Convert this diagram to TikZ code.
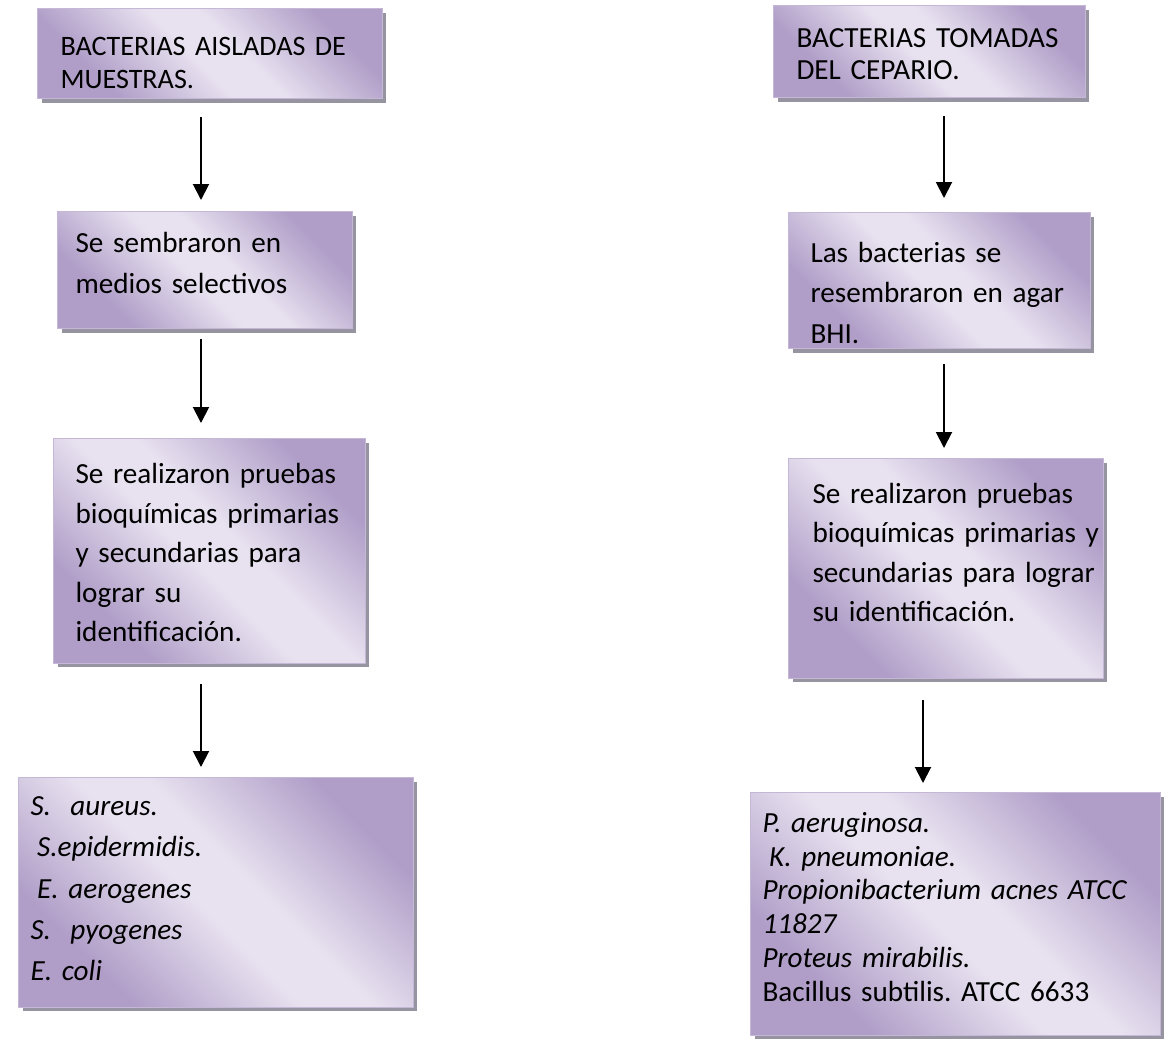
\documentclass[tikz,border=0pt]{standalone}
\usepackage{fontspec}
\setmainfont{Carlito}
\usetikzlibrary{arrows.meta,shadows}

\definecolor{lavdark}{RGB}{176,158,200}
\definecolor{lavlight}{RGB}{232,226,240}
\definecolor{lavline}{RGB}{196,184,214}
\definecolor{boxshadow}{RGB}{150,148,160}

\pgfdeclarehorizontalshading{lavshade}{100bp}{color(0bp)=(lavdark); color(28bp)=(lavdark); color(47bp)=(lavlight); color(55bp)=(lavlight); color(74bp)=(lavdark); color(100bp)=(lavdark)}

\tikzset{
  flowbox/.style={draw=lavline, line width=0.6pt, shade, shading=lavshade, shading angle=45,
    drop shadow={shadow xshift=0.08cm, shadow yshift=-0.08cm, fill=boxshadow, opacity=1},
    anchor=north west, inner sep=0pt},
  lpad/.style={execute at begin node={\frenchspacing\raggedright\leftskip=#1}},
  lines/.style={font=\fontsize{16.6pt}{#1}\selectfont},
  flowarrow/.style={line width=1.1pt, -{Triangle[width=0.32cm,length=0.32cm]}}
}

\begin{document}
\begin{tikzpicture}[x=0.02cm, y=-0.02cm]
  \useasboundingbox (0,0) rectangle (1164,1039);

  % left column
  \node[flowbox, lpad=0.46cm, text width=6.9cm, text height=0.94cm, text depth=0.86cm, font=\fontsize{16pt}{18.8pt}\selectfont] (aislada) at (37,8) {BACTERIAS AISLADAS DE\\MUESTRAS.};
  \node[flowbox, lpad=0.36cm, text width=5.9cm, text height=0.82cm, text depth=1.52cm, lines=23.3pt] (siembra) at (57,211) {Se sembraron en\\medios selectivos};
  \node[flowbox, lpad=0.44cm, text width=6.24cm, text height=0.9cm, text depth=3.6cm, lines=22.5pt] (pruebasA) at (53,438) {Se realizaron pruebas\\bioquímicas primarias\\y secundarias para\\lograr su\\identificación.};
  \node[flowbox, lpad=0.24cm, text width=7.9cm, text height=0.76cm, text depth=3.84cm, lines=23.5pt] (especiesA) at (18,777) {\itshape S.\ \ aureus.\\\hspace*{3.75pt}S.epidermidis.\\\hspace*{3.75pt}E. aerogenes\\S.\ \ pyogenes\\E. coli};

  % right column
  \node[flowbox, lpad=0.46cm, text width=6.24cm, text height=0.84cm, text depth=1.0cm, lines=18.2pt] (cepario) at (773,5) {BACTERIAS TOMADAS\\DEL CEPARIO.};
  \node[flowbox, lpad=0.44cm, text width=6.04cm, text height=1.0cm, text depth=1.72cm, lines=23pt] (resiembra) at (788,212) {Las bacterias se\\resembraron en agar\\BHI.};
  \node[flowbox, lpad=0.48cm, text width=6.3cm, text height=0.9cm, text depth=3.5cm, lines=22.4pt] (pruebasB) at (788,458) {Se realizaron pruebas\\bioquímicas primarias y\\secundarias para lograr\\su identificación.};
  \node[flowbox, lpad=0.24cm, text width=8.2cm, text height=0.8cm, text depth=4.06cm, lines=19.2pt] (especiesB) at (750,792) {{\itshape P. aeruginosa.\\\hspace*{3.75pt}K. pneumoniae.\\Propionibacterium acnes ATCC\\11827\\Proteus mirabilis.\\}Bacillus subtilis. ATCC 6633};

  % arrows
  \coordinate (lcol) at (201,0);
  \coordinate (rcol) at (944,0);
  \coordinate (rcolb) at (923,0);
  \draw[flowarrow, shorten <=0.36cm, shorten >=0.22cm] (aislada.south -| lcol) -- (siembra.north -| lcol);
  \draw[flowarrow, shorten <=0.2cm, shorten >=0.3cm] (siembra.south -| lcol) -- (pruebasA.north -| lcol);
  \draw[flowarrow, shorten <=0.4cm, shorten >=0.2cm] (pruebasA.south -| lcol) -- (especiesA.north -| lcol);
  \draw[flowarrow, shorten <=0.36cm, shorten >=0.28cm] (cepario.south -| rcol) -- (resiembra.north -| rcol);
  \draw[flowarrow, shorten <=0.3cm, shorten >=0.2cm] (resiembra.south -| rcol) -- (pruebasB.north -| rcol);
  \draw[flowarrow, shorten <=0.42cm, shorten >=0.18cm] (pruebasB.south -| rcolb) -- (especiesB.north -| rcolb);
\end{tikzpicture}
\end{document}
